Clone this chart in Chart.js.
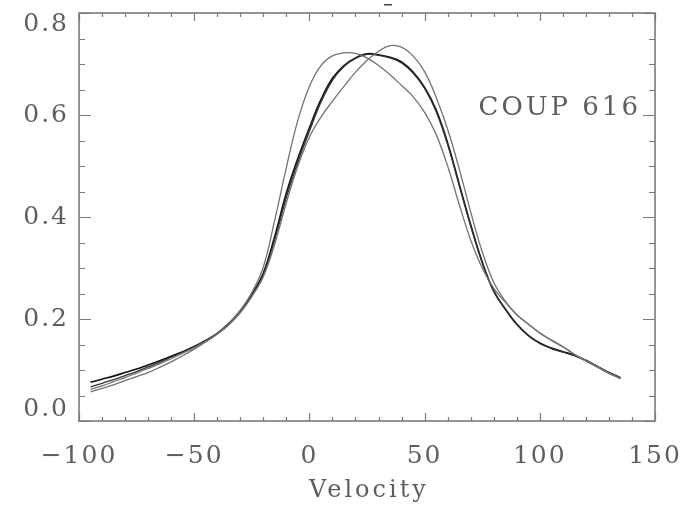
<!DOCTYPE html>
<html>
<head>
<meta charset="utf-8">
<script src="https://cdn.jsdelivr.net/npm/chart.js@4"></script>
<style>
  html, body { margin: 0; padding: 0; background: #fff; }
  #wrap { width: 697px; height: 512px; }
</style>
</head>
<body>
<div id="wrap"><canvas id="chart"></canvas></div>
<script>
// velocity grid of the profiles
const velocity = [-95, -90, -85, -80, -75, -70, -65, -60, -55, -50, -45, -40, -35, -30, -25, -20,
  -15, -10, -5, 0, 5, 10, 15, 20, 25, 30, 35, 40, 45, 50, 55, 60, 65, 70, 75, 80,
  85, 90, 95, 100, 105, 110, 115, 120, 125, 130, 135];

// gray profile, peak on the left
const profileA = [0.057, 0.064, 0.071, 0.079, 0.087, 0.095, 0.105, 0.116, 0.128, 0.141, 0.155, 0.171, 0.190, 0.217, 0.252, 0.302,
  0.395, 0.497, 0.59, 0.656, 0.697, 0.716, 0.722, 0.721, 0.712, 0.697, 0.679, 0.658, 0.636, 0.605, 0.562, 0.50,
  0.425, 0.355, 0.30, 0.26, 0.233, 0.208, 0.19, 0.173, 0.159, 0.146, 0.131, 0.118, 0.106, 0.094, 0.083];
// gray profile, peak on the right
const profileB = [0.062, 0.069, 0.077, 0.085, 0.094, 0.103, 0.112, 0.122, 0.133, 0.144, 0.156, 0.170, 0.188, 0.212, 0.244, 0.283,
  0.348, 0.428, 0.50, 0.557, 0.596, 0.627, 0.656, 0.684, 0.707, 0.725, 0.736, 0.733, 0.716, 0.685, 0.635, 0.572,
  0.495, 0.41, 0.332, 0.272, 0.235, 0.209, 0.19, 0.172, 0.158, 0.145, 0.131, 0.118, 0.106, 0.094, 0.084];
// black profile, flat top
const profileC = [0.076, 0.082, 0.088, 0.095, 0.102, 0.110, 0.118, 0.127, 0.136, 0.146, 0.158, 0.172, 0.191, 0.216, 0.248, 0.290,
  0.363, 0.447, 0.515, 0.575, 0.63, 0.672, 0.697, 0.712, 0.72, 0.718, 0.713, 0.704, 0.684, 0.654, 0.61, 0.545,
  0.465, 0.385, 0.312, 0.255, 0.22, 0.19, 0.168, 0.153, 0.143, 0.136, 0.129, 0.119, 0.107, 0.095, 0.085];
// dark profile, close to the black one
const profileD = [0.067, 0.074, 0.081, 0.089, 0.097, 0.106, 0.115, 0.125, 0.135, 0.145, 0.157, 0.171, 0.189, 0.214, 0.246, 0.287,
  0.356, 0.438, 0.507, 0.568, 0.625, 0.668, 0.695, 0.711, 0.719, 0.717, 0.712, 0.702, 0.682, 0.652, 0.607, 0.542,
  0.462, 0.382, 0.31, 0.254, 0.219, 0.189, 0.167, 0.152, 0.142, 0.135, 0.128, 0.118, 0.106, 0.094, 0.084];

const xTicks = [-100, -50, 0, 50, 100, 150];
const yTicks = [0.0, 0.2, 0.4, 0.6, 0.8];

const FONT = '"DejaVu Serif", "Liberation Serif", serif';
const INK = '#5e5e5e';
const FRAME = '#7a7a7a';

function toPoints(ys) {
  return velocity.map(function(v, i) { return { x: v, y: ys[i] }; });
}

// wider letter spacing for the tick labels, like the plotting font of the original
const spacingPlugin = {
  id: 'spacing',
  beforeDraw: function(chart) { chart.ctx.letterSpacing = '2px'; },
  afterDraw: function(chart) { chart.ctx.letterSpacing = '0px'; }
};

// frame with inward ticks on all four sides, plus the free texts
const framePlugin = {
  id: 'frame',
  afterDraw: function(chart) {
    const ctx = chart.ctx;
    const a = chart.chartArea;
    const xs = chart.scales.x;
    const ys = chart.scales.y;
    ctx.save();
    ctx.strokeStyle = FRAME;
    ctx.lineWidth = 1.6;
    ctx.strokeRect(a.left, a.top, a.right - a.left, a.bottom - a.top);

    ctx.lineWidth = 1.2;
    ctx.beginPath();
    for (let v = -100; v <= 150; v += 10) {
      const px = Math.round(xs.getPixelForValue(v)) + 0.5;
      const len = (v % 50 === 0) ? 8 : 4;
      ctx.moveTo(px, a.bottom); ctx.lineTo(px, a.bottom - len);
      ctx.moveTo(px, a.top); ctx.lineTo(px, a.top + len);
    }
    for (let k = 0; k <= 16; k++) {
      const py = Math.round(ys.getPixelForValue(k * 0.05)) + 0.5;
      const len = (k % 4 === 0) ? 12 : 6;
      ctx.moveTo(a.left, py); ctx.lineTo(a.left + len, py);
      ctx.moveTo(a.right, py); ctx.lineTo(a.right - len, py);
    }
    ctx.stroke();

    // small dash above the top axis
    ctx.fillStyle = '#444';
    ctx.fillRect(384, 4, 8, 1.5);

    ctx.fillStyle = INK;
    ctx.textBaseline = 'alphabetic';
    ctx.letterSpacing = '3px';
    ctx.font = '24px ' + FONT;
    ctx.textAlign = 'center';
    ctx.fillText('Velocity', (a.left + a.right) / 2 + 2, 497);

    ctx.font = '26px ' + FONT;
    ctx.textAlign = 'right';
    ctx.fillText('COUP 616', a.right - 14, ys.getPixelForValue(0.6));
    ctx.restore();
  }
};

const lineStyle = { pointRadius: 0, fill: false, tension: 0.4 };

new Chart(document.getElementById('chart'), {
  type: 'line',
  data: {
    datasets: [
      Object.assign({ label: 'A', data: toPoints(profileA), borderColor: '#737373', borderWidth: 1.3 }, lineStyle),
      Object.assign({ label: 'B', data: toPoints(profileB), borderColor: '#737373', borderWidth: 1.3 }, lineStyle),
      Object.assign({ label: 'D', data: toPoints(profileD), borderColor: '#333', borderWidth: 1.3 }, lineStyle),
      Object.assign({ label: 'C', data: toPoints(profileC), borderColor: '#111', borderWidth: 1.6 }, lineStyle)
    ]
  },
  options: {
    responsive: true,
    maintainAspectRatio: false,
    animation: false,
    events: [],
    layout: { padding: { left: 0, right: 42, top: 13, bottom: 0 } },
    plugins: {
      legend: { display: false },
      tooltip: { enabled: false }
    },
    scales: {
      x: {
        type: 'linear',
        min: -100,
        max: 150,
        afterFit: function(scale) {
          scale.height = 91;
          scale.paddingLeft = 0;
          scale.paddingRight = 0;
        },
        afterBuildTicks: function(scale) {
          scale.ticks = xTicks.map(function(v) { return { value: v }; });
        },
        grid: { display: false, drawTicks: false },
        border: { display: false },
        ticks: {
          padding: 20,
          color: INK,
          maxRotation: 0,
          font: { family: FONT, size: 25 },
          callback: function(value) { return String(value).replace('-', '\u2212'); }
        }
      },
      y: {
        type: 'linear',
        min: 0,
        max: 0.8,
        afterFit: function(scale) {
          scale.width = 79;
          scale.paddingTop = 0;
          scale.paddingBottom = 0;
        },
        afterBuildTicks: function(scale) {
          scale.ticks = yTicks.map(function(v) { return { value: v }; });
        },
        grid: { display: false, drawTicks: false },
        border: { display: false },
        ticks: {
          padding: 10,
          color: INK,
          font: { family: FONT, size: 25, lineHeight: 0.9 },
          callback: function(value) {
            const s = Number(value).toFixed(1);
            // end labels sit a little inside the axis range
            if (value === 0) return [s, ''];
            if (value === 0.8) return ['', s];
            return s;
          }
        }
      }
    }
  },
  plugins: [spacingPlugin, framePlugin]
});
</script>
</body>
</html>
